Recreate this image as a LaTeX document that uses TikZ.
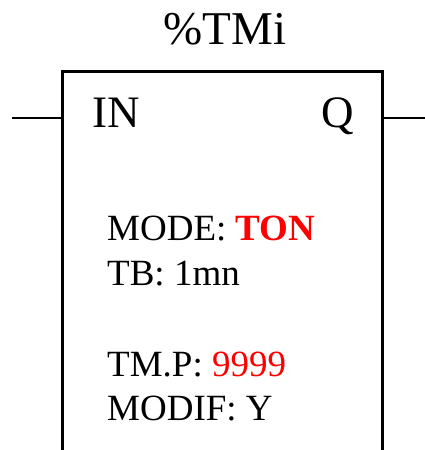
\documentclass[tikz,border=0pt]{standalone}
\usepackage{fontspec}
\setmainfont{Liberation Serif}
\usepackage{tikz}

\begin{document}
\begin{tikzpicture}[x=1pt, y=1pt,
    big/.style={inner sep=0pt, font=\fontsize{45}{54}\selectfont},
    field/.style={inner sep=0pt, anchor=base west, font=\fontsize{37}{45}\selectfont}]
    \useasboundingbox (0,0) rectangle (424,450);
    % block
    \node[draw, line width=2.6pt, minimum width=320pt, minimum height=460pt,
          anchor=north west, inner sep=0pt] (timer) at (61,380) {};
    \node[big, anchor=base, font=\fontsize{47}{56}\selectfont] (name) at (225,405) {\%TMi};
    % input and output
    \coordinate (inL) at (12,332);
    \coordinate (outR) at (430,332);
    \draw[line width=2.8pt] (inL) -- (inL -| timer.west);
    \draw[line width=2.8pt] (outR -| timer.east) -- (outR);
    \node[big, anchor=base west] (in) at (92,322) {IN};
    \node[big, anchor=base east] (q) at (354,322) {Q};
    % parameters
    \node[field] (mode) at (107,209) {MODE: \textcolor{red}{\textbf{TON}}};
    \node[field] (tb) at (107,164) {TB: 1mn};
    \node[field] (tmp) at (107,73) {TM.P: \textcolor{red}{9999}};
    \node[field] (modif) at (107,29) {MODIF: Y};
\end{tikzpicture}
\end{document}
